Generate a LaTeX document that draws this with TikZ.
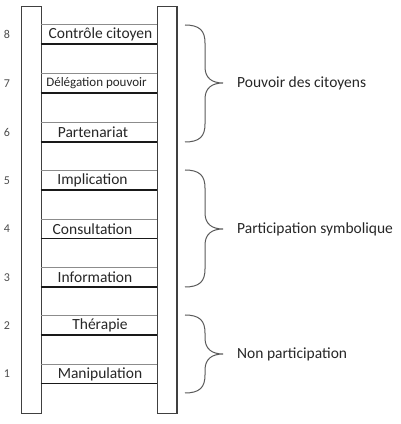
\documentclass[tikz,border=0pt]{standalone}
\usepackage{fontspec}
\setmainfont{Carlito}
\begin{document}
\begin{tikzpicture}[x=1pt,y=1pt,
  rail/.style={draw=black!75,line width=1.1pt,fill=white,minimum width=19.7pt,minimum height=407pt,inner sep=0pt,anchor=north west},
  rung/.style={minimum width=116pt,minimum height=19pt,inner sep=0pt},
  lab/.style={font=\fontsize{15.5}{17}\selectfont,text=black!85,inner sep=0pt},
  num/.style={font=\fontsize{12}{14}\selectfont,text=black!70,inner sep=0pt},
  grp/.style={font=\fontsize{15.5}{17}\selectfont,text=black!85,inner sep=0pt,anchor=west},
  topline/.style={draw=black!45,line width=0.8pt},
  botline/.style={draw=black!90,line width=1.4pt},
  bracestyle/.style={draw=black!65,line width=1pt}]
\useasboundingbox (0,0) rectangle (400,424);
% rails
\node[rail] (L) at (21,418) {};
\node[rail] (R) at (156.7,418) {};
% rungs
\foreach \n/\y in {8/34.4,7/83.5,6/132.2,5/180.4,4/229,3/277.4,2/325.2,1/374}{
  \node[rung] (r\n) at (98.7,424-\y) {};
  \draw[topline] (r\n.north west) -- (r\n.north east);
  \draw[botline] (r\n.south west) -- (r\n.south east);
  \node[num] (n\n) at (7,424-\y) {\n};
}
% rung labels
\node[lab] (t8) at (100.5,424-34.4) {Contrôle citoyen};
\node[lab,font=\fontsize{13}{14}\selectfont] (t7) at (96.5,424-83.5) {Délégation pouvoir};
\node[lab] (t6) at (93,424-132.2) {Partenariat};
\node[lab] (t5) at (92.5,424-180.4) {Implication};
\node[lab] (t4) at (92.5,424-229) {Consultation};
\node[lab] (t3) at (95,424-277.4) {Information};
\node[lab] (t2) at (100,424-325.2) {Thérapie};
\node[lab] (t1) at (100,424-374) {Manipulation};
% braces
\foreach \name/\top/\mid/\bot in {a/25/83/142, b/170/229/287, c/315/354/393}{
  \coordinate (tip\name) at (223,424-\mid);
  \draw[bracestyle] (185,424-\top) .. controls (200,424-\top) and (205,424-\top-6) .. (205,424-\top-18)
     -- (205,424-\mid+16) .. controls (205,424-\mid+5) and (212,424-\mid) .. (tip\name)
     .. controls (212,424-\mid) and (205,424-\mid-5) .. (205,424-\mid-16)
     -- (205,424-\bot+18) .. controls (205,424-\bot+6) and (200,424-\bot) .. (185,424-\bot);
}
\node[grp] (ga) at ([xshift=14pt]tipa) {Pouvoir des citoyens};
\node[grp] (gb) at ([xshift=14pt]tipb) {Participation symbolique};
\node[grp] (gc) at ([xshift=14pt]tipc) {Non participation};
\end{tikzpicture}
\end{document}
